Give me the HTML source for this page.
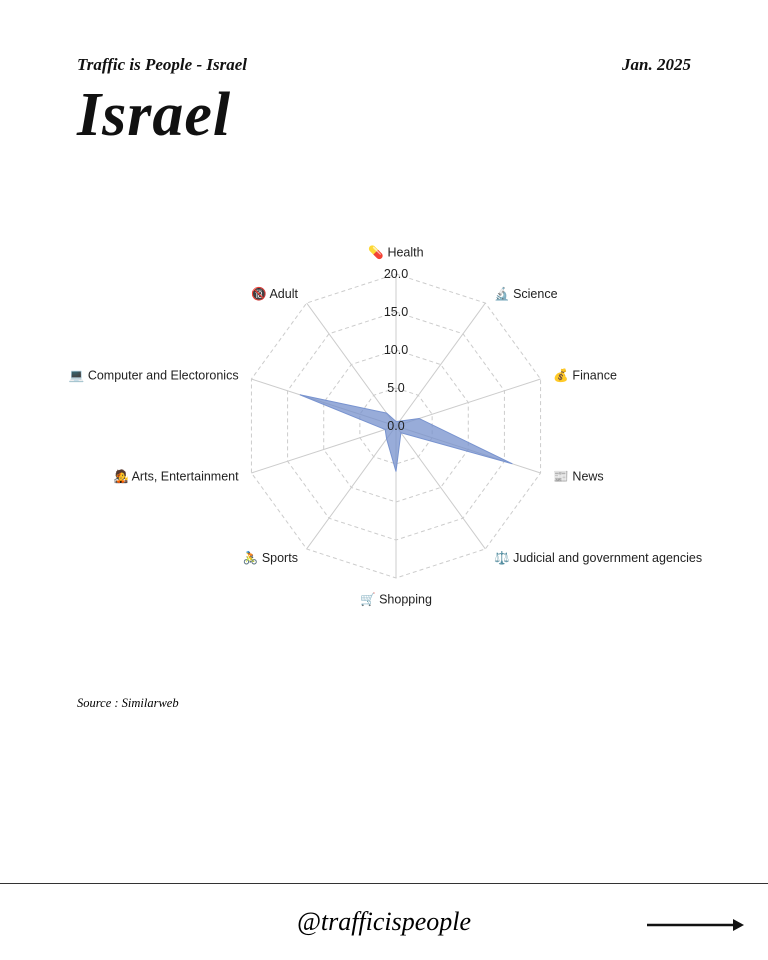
<!DOCTYPE html>
<html><head><meta charset="utf-8"><style>
body{margin:0;width:768px;height:960px;background:#fff;position:relative;overflow:hidden;font-family:"Liberation Serif",serif}
.hdr{position:absolute;top:55px;font-style:italic;font-weight:bold;font-size:17px;color:#111}
#title{position:absolute;left:77px;top:80px;font-size:62px;font-style:italic;font-weight:bold;color:#111;letter-spacing:1px}
#source{position:absolute;left:77px;top:696px;font-size:12.5px;font-style:italic}
#rule{position:absolute;left:0;top:883px;width:768px;height:1px;background:#333}
#handle{position:absolute;left:0;width:768px;top:907px;text-align:center;font-size:26px;font-style:italic}
svg text{font-family:"Liberation Sans","Noto Sans CJK JP","DejaVu Sans",sans-serif;font-size:12.5px;fill:#222}
</style></head><body>
<div class="hdr" style="left:77px">Traffic is People - Israel</div>
<div class="hdr" style="right:77px">Jan. 2025</div>
<div id="title">Israel</div>
<svg id="chart" width="768" height="960" style="position:absolute;left:0;top:0"></svg>
<div id="source">Source : Similarweb</div>
<div id="rule"></div>
<div id="handle">@trafficispeople</div>
<svg style="position:absolute;left:645px;top:917px" width="100" height="16"><line x1="2" y1="8" x2="90" y2="8" stroke="#111" stroke-width="2.5"/><polygon points="88,2 99,8 88,14" fill="#111"/></svg>
<script>
const categories=["Health","Science","Finance","News","Judicial and government agencies","Shopping","Sports","Arts, Entertainment","Computer and Electoronics","Adult"];
const icons=["💊","🔬","💰","📰","⚖️","🛒","🚴","🧑‍🎤","💻","🔞"];
const values=[0.6,0.8,3.2,16.1,1.1,6.0,2.1,1.5,13.3,2.1];
const ticks=[0,5,10,15,20];
const tickLabels=["0.0","5.0","10.0","15.0","20.0"];
const maxVal=20;
const cx=396,cy=426,R=152,NS="http://www.w3.org/2000/svg";
const svg=document.getElementById('chart');
function ang(i){return i*2*Math.PI/categories.length;}
function pt(i,v){const r=v/maxVal*R;return [cx+r*Math.sin(ang(i)),cy-r*Math.cos(ang(i))];}
function mk(t,a){const e=document.createElementNS(NS,t);for(const k in a)e.setAttribute(k,a[k]);svg.appendChild(e);return e;}
ticks.forEach((t,k)=>{if(t===0)return;
 const p=categories.map((c,i)=>pt(i,t).join(',')).join(' ');
 const g=mk('polygon',{points:p,fill:'none',stroke:'#ccc','stroke-dasharray':'4,3','stroke-width':1});
 
 });
categories.forEach((c,i)=>{const p=pt(i,maxVal);
 const l=mk('line',{x1:cx,y1:cy,x2:p[0],y2:p[1],stroke:'#ccc','stroke-width':1});
 
 });
const poly=mk('polygon',{points:values.map((v,i)=>pt(i,v).join(',')).join(' '),fill:'rgba(118,144,204,0.75)',stroke:'#7893cf','stroke-width':1});


ticks.forEach((t,k)=>{const y=cy-t/maxVal*R;
 const tx=mk('text',{x:cx,y:y+4,'text-anchor':'middle'});tx.textContent=tickLabels[k];
 
 });
categories.forEach((c,i)=>{const p=pt(i,maxVal+1.5);const s=Math.sin(ang(i));
 let anchor=Math.abs(s)<0.1?'middle':(s>0?'start':'end');
 let y=p[1]+4; if(i===0)y-=10; if(i===5)y+=10;
 const tx=mk('text',{x:p[0]+(anchor==='start'?2:anchor==='end'?-2:0),y:y,'text-anchor':anchor});
 tx.textContent=icons[i]+" "+c;
 
 });
</script>
</body></html>
